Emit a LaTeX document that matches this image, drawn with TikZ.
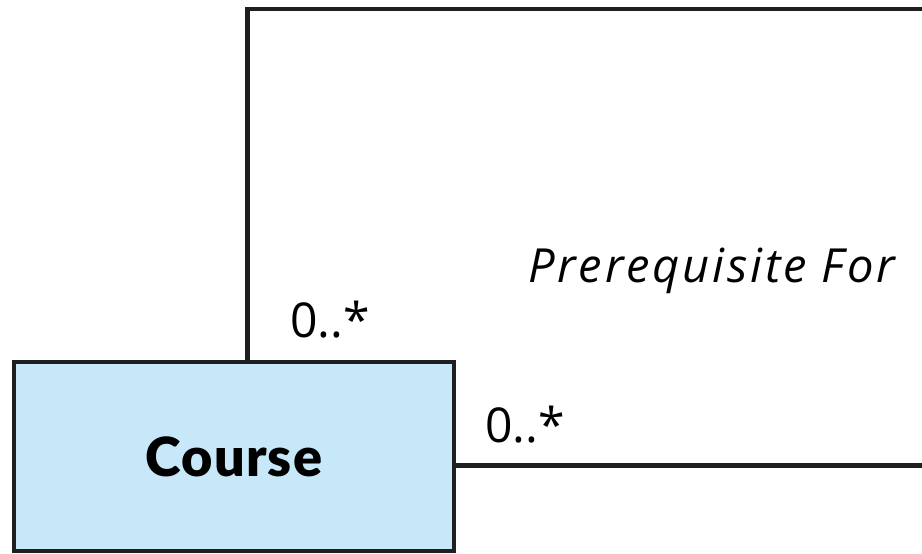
\documentclass[tikz,border=0pt]{standalone}
\usepackage{fontspec}
\setmainfont{Open Sans}
\IfFontExistsTF{Open Sans ExtraBold}
  {\newfontfamily\heavyfont{Open Sans ExtraBold}}
  {\IfFontExistsTF{Lato Black}
     {\newfontfamily\heavyfont{Lato Black}}
     {\newcommand\heavyfont{\bfseries}}}
\begin{document}
\begin{tikzpicture}[x=1pt,y=-1pt,
  line/.style={line width=4.4pt,draw=black!88},
  classbox/.style={draw=black!88,line width=4.4pt,fill=boxblue,minimum width=440pt,minimum height=189pt,inner sep=0pt,font=\fontsize{54}{60}\selectfont\heavyfont\addfontfeature{LetterSpace=2}},
  mult/.style={anchor=base west,inner sep=0pt,font=\fontsize{48}{56}\selectfont},
  assoc/.style={anchor=base west,inner sep=0pt,font=\fontsize{47}{54}\selectfont\itshape\addfontfeature{LetterSpace=6}}]
\definecolor{boxblue}{RGB}{198,232,249}
\useasboundingbox (0,0) rectangle (922,554);
\clip (0,0) rectangle (922,554);
\node[classbox] (course) at (234,456.5) {Course};
\coordinate (vx) at (247.5,0);
\coordinate (tr) at (940,9);
\coordinate (br) at (940,465.5);
\draw[line] (course.north -| vx) |- (tr) -- (br) -- (course.east |- br);
\node[assoc] (name) at (528,282) {Prerequisite For};
\node[mult] (m1) at (290,337) {0..*};
\node[mult] (m2) at (485,442) {0..*};
\end{tikzpicture}
\end{document}
